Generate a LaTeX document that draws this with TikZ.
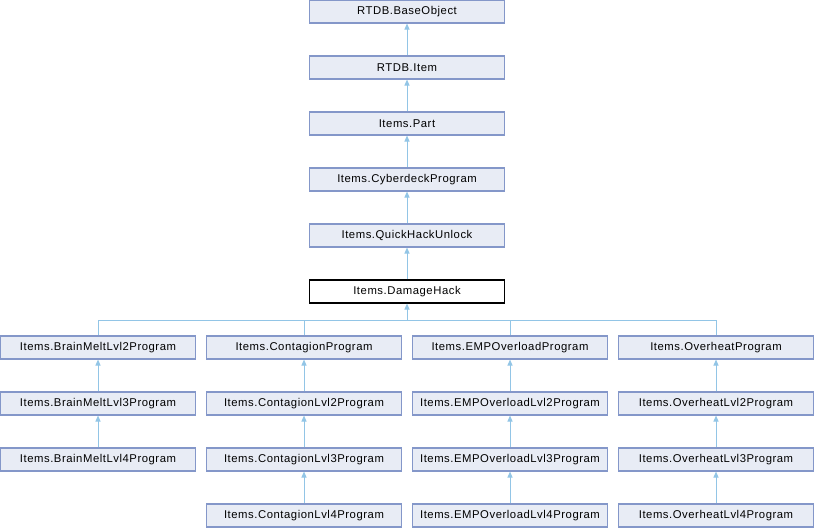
\documentclass[tikz,border=0pt]{standalone}
\usepackage{fontspec}
\setmainfont{Liberation Sans}[LetterSpace=4.8]
\usetikzlibrary{arrows.meta}
\definecolor{boxfill}{HTML}{E8ECF5}
\definecolor{boxline}{HTML}{8497C9}
\definecolor{edgecol}{HTML}{92C5E6}
\tikzset{
  cls/.style={draw=boxline, fill=boxfill, line width=1.1pt, minimum width=195pt, minimum height=23pt, inner sep=0pt, font=\fontsize{11.3}{13}\selectfont, text=black},
  cur/.style={cls, draw=black, fill=white},
  edge/.style={draw=edgecol, line width=1pt, -{Triangle[length=6pt,width=5pt]}},
  plain/.style={draw=edgecol, line width=1pt}
}
\begin{document}
\begin{tikzpicture}[x=1pt,y=-1pt]
\useasboundingbox (0,0) rectangle (814,528);
\node[cls] (base) at (407,11.5) {RTDB.BaseObject};
\node[cls] (item) at (407,67.5) {RTDB.Item};
\node[cls] (part) at (407,123.5) {Items.Part};
\node[cls] (cdp) at (407,179.5) {Items.CyberdeckProgram};
\node[cls] (qhu) at (407,235.5) {Items.QuickHackUnlock};
\node[cur] (dh) at (407,291.5) {Items.DamageHack};
\node[cls] (bm2) at (98,347.5) {Items.BrainMeltLvl2Program};
\node[cls] (bm3) at (98,403.5) {Items.BrainMeltLvl3Program};
\node[cls] (bm4) at (98,459.5) {Items.BrainMeltLvl4Program};
\node[cls] (cp) at (304,347.5) {Items.ContagionProgram};
\node[cls] (c2) at (304,403.5) {Items.ContagionLvl2Program};
\node[cls] (c3) at (304,459.5) {Items.ContagionLvl3Program};
\node[cls] (c4) at (304,515.5) {Items.ContagionLvl4Program};
\node[cls] (ep) at (510,347.5) {Items.EMPOverloadProgram};
\node[cls] (e2) at (510,403.5) {Items.EMPOverloadLvl2Program};
\node[cls] (e3) at (510,459.5) {Items.EMPOverloadLvl3Program};
\node[cls] (e4) at (510,515.5) {Items.EMPOverloadLvl4Program};
\node[cls] (op) at (716,347.5) {Items.OverheatProgram};
\node[cls] (o2) at (716,403.5) {Items.OverheatLvl2Program};
\node[cls] (o3) at (716,459.5) {Items.OverheatLvl3Program};
\node[cls] (o4) at (716,515.5) {Items.OverheatLvl4Program};
\coordinate (bus) at (407,320);
\draw[edge] (item) -- (base);
\draw[edge] (part) -- (item);
\draw[edge] (cdp) -- (part);
\draw[edge] (qhu) -- (cdp);
\draw[edge] (dh) -- (qhu);
\draw[plain] (bm2.north) |- (bus);
\draw[plain] (cp.north) |- (bus);
\draw[plain] (ep.north) |- (bus);
\draw[plain] (op.north) |- (bus);
\draw[edge] (bus) -- (dh.south);
\draw[edge] (bm3) -- (bm2);
\draw[edge] (bm4) -- (bm3);
\draw[edge] (c2) -- (cp);
\draw[edge] (c3) -- (c2);
\draw[edge] (c4) -- (c3);
\draw[edge] (e2) -- (ep);
\draw[edge] (e3) -- (e2);
\draw[edge] (e4) -- (e3);
\draw[edge] (o2) -- (op);
\draw[edge] (o3) -- (o2);
\draw[edge] (o4) -- (o3);
\end{tikzpicture}
\end{document}
